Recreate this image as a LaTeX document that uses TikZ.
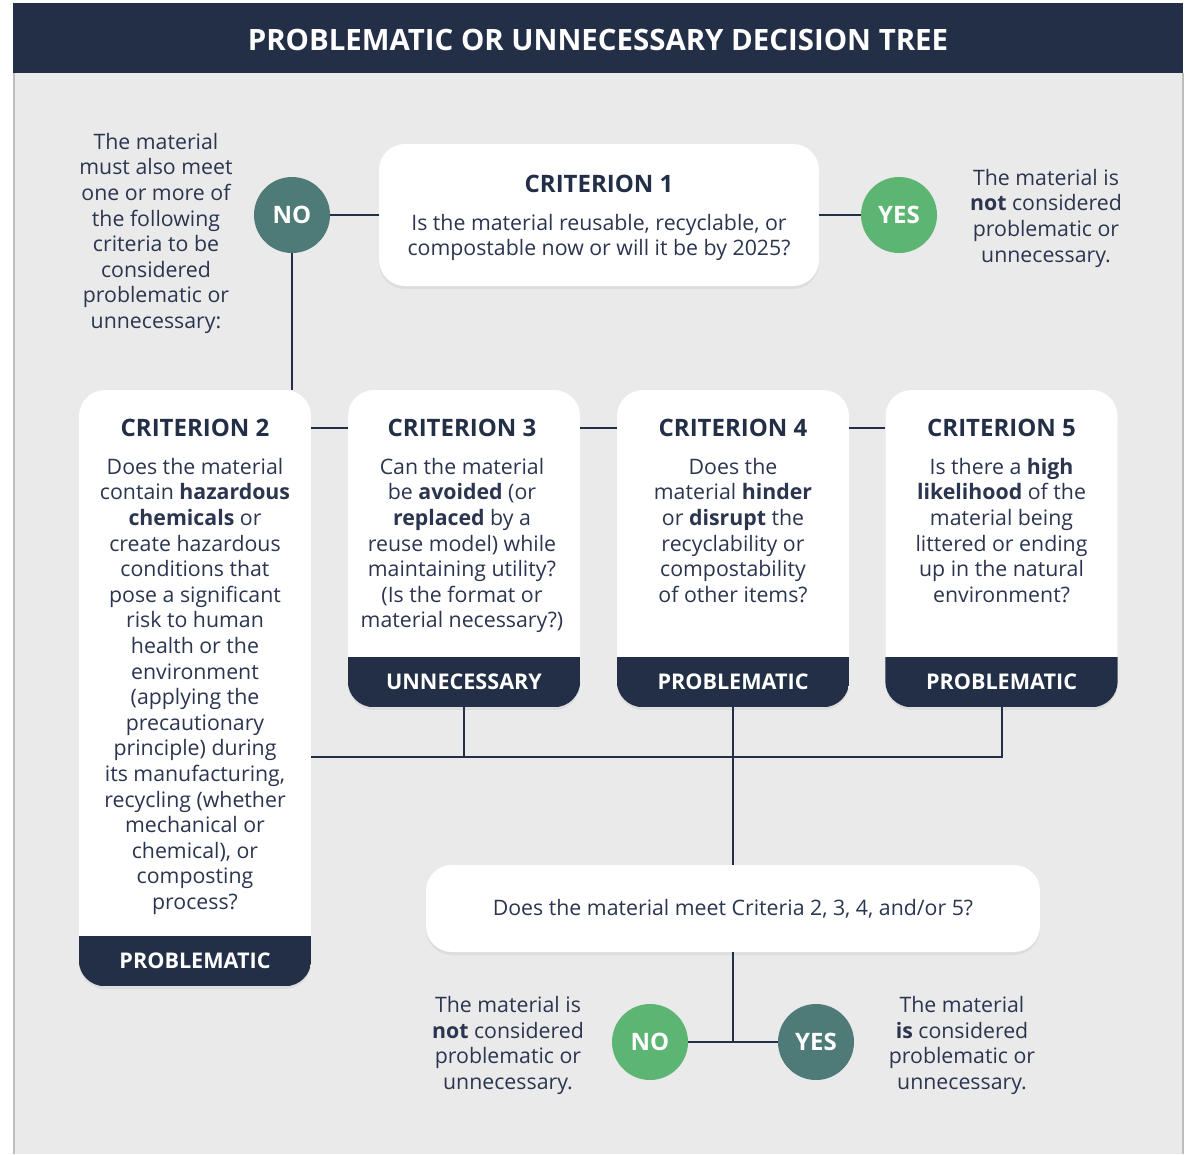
\documentclass[tikz,border=0pt]{standalone}
\usepackage{fontspec}
\setmainfont{Open Sans}
\usetikzlibrary{positioning,shadows}

\definecolor{navy}{HTML}{232E47}
\definecolor{inkblue}{HTML}{2B3550}
\definecolor{panelgray}{HTML}{EAEAEA}
\definecolor{edgegray}{HTML}{BDBDBD}
\definecolor{tealdot}{HTML}{4E7B77}
\definecolor{greendot}{HTML}{5DB573}

\tikzset{
  card/.style={fill=white, rounded corners=26pt, inner sep=0pt,
    drop shadow={opacity=0.12, shadow xshift=0pt, shadow yshift=-3pt}},
  heading/.style={font=\fontsize{24}{28}\selectfont\bfseries, text=navy, inner sep=0pt},
  body/.style={font=\fontsize{21.3}{25.6}\selectfont, text=inkblue, align=center, inner sep=0pt},
  verdict/.style={font=\fontsize{21.6}{24}\selectfont\bfseries, text=white, inner sep=0pt},
  dot/.style={circle, minimum size=76pt, inner sep=0pt,
    font=\fontsize{24}{26}\selectfont\bfseries, text=white},
  link/.style={navy, line width=2pt},
}

\begin{document}
\begin{tikzpicture}[x=1pt, y=-1pt]
    \useasboundingbox (0,0) rectangle (1190,1154);

    % --- Background and title bar ---
    \fill[panelgray] (13,73) rectangle (1183,1154);
    \draw[edgegray, line width=2pt] (14,73) -- (14,1154);
    \draw[edgegray, line width=2pt] (1183,73) -- (1183,1154);
    \fill[navy] (13,3) rectangle (1183,73);
    \node[font=\fontsize{29.4}{32}\selectfont\bfseries, text=white] (title) at (598,40)
        {PROBLEMATIC OR UNNECESSARY DECISION TREE};

    % --- Criterion 1 ---
    \node[card, minimum width=440pt, minimum height=142pt] (c1) at (599,215) {};
    \node[heading] (h1) at (599,184) {CRITERION 1};
    \node[body, anchor=north] (t1) at (599,214)
        {Is the material reusable, recyclable, or\\compostable now or will it be by 2025?};

    \node[dot, fill=tealdot] (no1) at (292,215) {NO};
    \node[dot, fill=greendot] (yes1) at (899,215) {YES};

    \node[body, anchor=north] (ltxt) at (156,133)
        {The material\\must also meet\\one or more of\\the following\\criteria to be\\considered\\problematic or\\unnecessary:};
    \node[body, anchor=north] (rtxt) at (1046,169)
        {The material is\\\textbf{not} considered\\problematic or\\unnecessary.};

    % --- Criteria 2 to 5 ---
    \node[card, minimum width=232pt, minimum height=596pt] (c2) at (195,688) {};
    \node[card, minimum width=232pt, minimum height=317pt] (c3) at (464,548.5) {};
    \node[card, minimum width=232pt, minimum height=317pt] (c4) at (733,548.5) {};
    \node[card, minimum width=232pt, minimum height=317pt] (c5) at (1001.5,548.5) {};

    % dark bottom bands, clipped to the card outline
    \foreach \c in {c2,c3,c4,c5}{
      \begin{scope}
        \clip[rounded corners=26pt] (\c.south west) rectangle (\c.north east);
        \fill[navy] (\c.south west) rectangle ([yshift=50pt]\c.south east);
      \end{scope}
    }
    \node[verdict] (v2) at ([yshift=25pt]c2.south) {PROBLEMATIC};
    \node[verdict] (v3) at ([yshift=25pt]c3.south) {UNNECESSARY};
    \node[verdict] (v4) at ([yshift=25pt]c4.south) {PROBLEMATIC};
    \node[verdict] (v5) at ([yshift=25pt]c5.south) {PROBLEMATIC};

    \node[heading] (h2) at (195,428) {CRITERION 2};
    \node[heading] (h3) at (462,428) {CRITERION 3};
    \node[heading] (h4) at (733,428) {CRITERION 4};
    \node[heading] (h5) at (1001.5,428) {CRITERION 5};

    \node[body, anchor=north] (t2) at (195,458)
        {Does the material\\contain \textbf{hazardous}\\\textbf{chemicals} or\\create hazardous\\conditions that\\pose a significant\\risk to human\\health or the\\environment\\(applying the\\precautionary\\principle) during\\its manufacturing,\\recycling (whether\\mechanical or\\chemical), or\\composting\\process?};
    \node[body, anchor=north] (t3) at (462,458)
        {Can the material\\be \textbf{avoided} (or\\\textbf{replaced} by a\\reuse model) while\\maintaining utility?\\(Is the format or\\material necessary?)};
    \node[body, anchor=north] (t4) at (733,458)
        {Does the\\material \textbf{hinder}\\or \textbf{disrupt} the\\recyclability or\\compostability\\of other items?};
    \node[body, anchor=north] (t5) at (1001.5,458)
        {Is there a \textbf{high}\\\textbf{likelihood} of the\\material being\\littered or ending\\up in the natural\\environment?};

    % --- Final question ---
    \node[card, minimum width=614pt, minimum height=87pt] (q) at (733,908.5) {};
    \node[body] (qt) at (733,909) {Does the material meet Criteria 2, 3, 4, and/or 5?};

    \node[dot, fill=greendot] (no2) at (650,1042) {NO};
    \node[dot, fill=tealdot] (yes2) at (816,1042) {YES};

    \node[body, anchor=north] (btxtl) at (508,996)
        {The material is\\\textbf{not} considered\\problematic or\\unnecessary.};
    \node[body, anchor=north] (btxtr) at (962,996)
        {The material\\\textbf{is} considered\\problematic or\\unnecessary.};

    % --- Connectors ---
    \coordinate (bus) at (733,757);
    \draw[link] (no1) -- (c1);
    \draw[link] (c1) -- (yes1);
    \draw[link] (no1) -- (no1 |- c2.north);
    \draw[link] (h2 -| c2.east) -- (h2 -| c3.west);
    \draw[link] (h3 -| c3.east) -- (h3 -| c4.west);
    \draw[link] (h4 -| c4.east) -- (h4 -| c5.west);
    \draw[link] (c3.south) -- (c3.south |- bus);
    \draw[link] (c2.east |- bus) -- (bus -| c5.south) -- (c5.south);
    \draw[link] (c4.south) -- (c4.south |- q.north);
    \draw[link] (q.south) -- (q.south |- no2);
    \draw[link] (no2) -- (yes2);
\end{tikzpicture}
\end{document}
